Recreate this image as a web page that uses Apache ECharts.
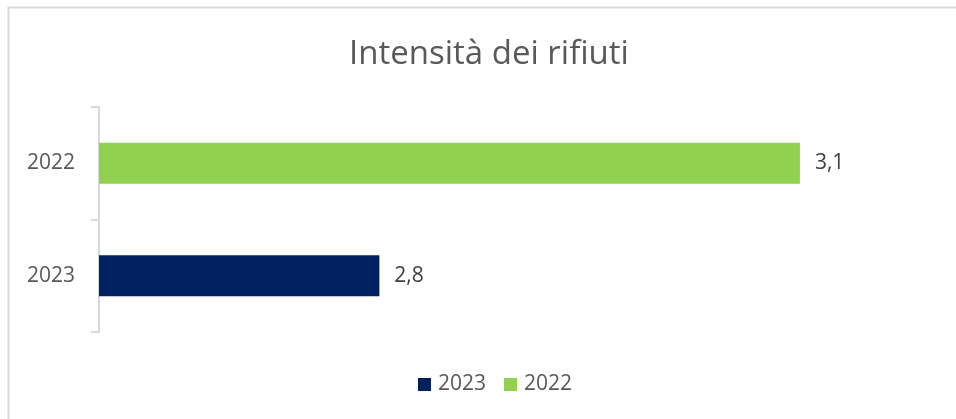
<!DOCTYPE html>
<html><head><meta charset="utf-8">
<script src="https://cdn.jsdelivr.net/npm/echarts@6/dist/echarts.min.js"></script>
<style>html,body{margin:0;padding:0;background:#fff}#c{width:956px;height:419px}</style>
</head><body><div id="c"></div>
<script>
const categories = ['2023', '2022'];
const seriesNames = ['2023', '2022'];
const values2023 = [2.8, '-'];
const values2022 = ['-', 3.1];
const titleText = 'Intensità dei rifiuti';
const FONT = '"Open Sans", sans-serif';

const chart = echarts.init(document.getElementById('c'));
const fmt = p => String(p.value).replace('.', ',');
chart.setOption({
  animation: false,
  textStyle: { fontFamily: FONT },
  title: { text: titleText, left: 349, top: 38, padding: 0,
    textStyle: { fontFamily: FONT, fontSize: 33, fontWeight: 'normal', color: '#595959' } },
  graphic: [{ type: 'rect', shape: { x: 8.5, y: 7.5, width: 1000, height: 1000 },
    style: { fill: 'none', stroke: '#d9d9d9', lineWidth: 2 }, silent: true }],
  legend: { bottom: 19, left: 413, itemWidth: 13, itemHeight: 13, itemGap: 18,
    icon: 'rect', data: seriesNames,
    textStyle: { fontFamily: FONT, fontSize: 21, color: '#595959', padding: [0, 0, 0, 2] } },
  grid: { left: 99, top: 107, width: 771, height: 225, containLabel: false },
  xAxis: { type: 'value', min: 2.6, max: 3.15, show: false, splitLine: { show: false } },
  yAxis: { type: 'category', data: categories,
    axisLine: { show: true, lineStyle: { color: '#d9d9d9', width: 2 } },
    axisTick: { show: true, alignWithLabel: false, length: 8, lineStyle: { color: '#d9d9d9', width: 2 } },
    axisLabel: { fontFamily: FONT, fontSize: 21, color: '#595959', margin: 24 } },
  series: [
    { name: '2023', type: 'bar', data: values2023, barWidth: 41, barGap: '-100%',
      itemStyle: { color: '#002060' },
      label: { show: true, position: 'right', distance: 15, formatter: fmt,
        fontFamily: FONT, fontSize: 21, color: '#404040' } },
    { name: '2022', type: 'bar', data: values2022, barWidth: 41,
      itemStyle: { color: '#92d050' },
      label: { show: true, position: 'right', distance: 15, formatter: fmt,
        fontFamily: FONT, fontSize: 21, color: '#404040' } }
  ]
});
</script></body></html>
